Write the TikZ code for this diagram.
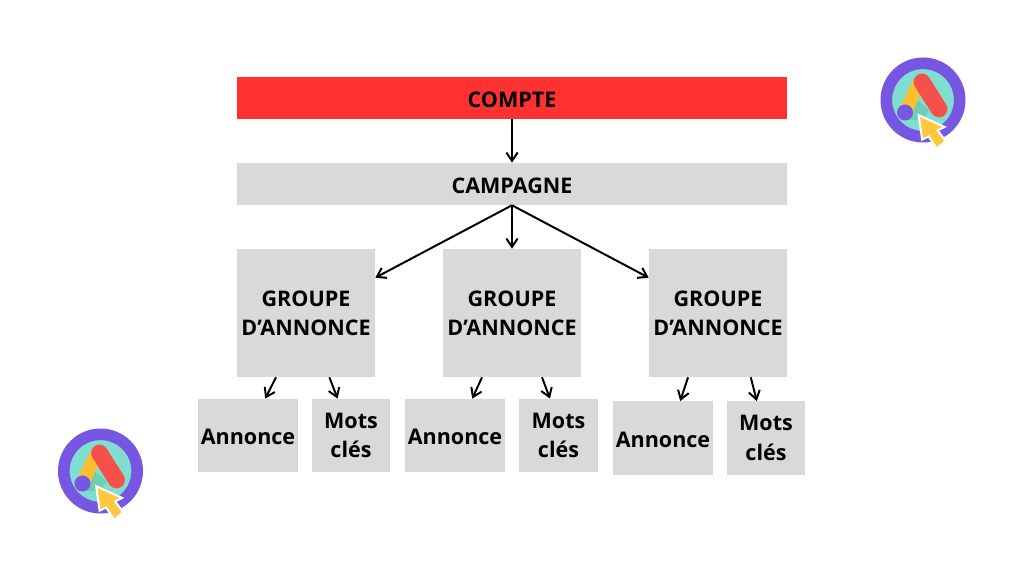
\documentclass[tikz,border=0pt]{standalone}
\usepackage{fontspec}
\setmainfont{Open Sans}
\usetikzlibrary{arrows.meta,positioning}
\definecolor{comptered}{RGB}{255,49,49}
\definecolor{boxgray}{RGB}{217,217,217}
\definecolor{ringpurple}{RGB}{118,86,226}
\definecolor{discteal}{RGB}{128,222,208}
\definecolor{shadeteal}{RGB}{112,205,178}
\definecolor{barred}{RGB}{246,80,74}
\definecolor{baryellow}{RGB}{251,192,48}
\definecolor{cursoryellow}{RGB}{253,200,60}

\begin{document}
\begin{tikzpicture}[
    x=0.025cm, y=-0.025cm,
    box/.style={rectangle, fill=boxgray, inner sep=0pt, align=center, font=\fontsize{15.3}{21}\selectfont\bfseries, execute at begin node={\rule{0pt}{13.5pt}}},
    wide/.style={box, minimum width=13.75cm, minimum height=1.05cm},
    groupe/.style={box, minimum width=3.45cm, minimum height=3.2cm, font=\fontsize{15.3}{20.6}\selectfont\bfseries, execute at begin node={\rule{0pt}{20pt}}},
    annonce/.style={box, minimum width=2.5cm, minimum height=1.83cm},
    motscles/.style={box, minimum width=1.95cm, minimum height=1.83cm, execute at begin node={\rule{0pt}{15pt}}},
    arrow/.style={-{Straight Barb[length=6pt,width=8pt]}, line width=1.4pt, black},
    pics/adsicon/.style={code={
        \fill[discteal] (0,0) circle (32);
        \draw[ringpurple, line width=0.29cm] (0,0) circle (36.7);
        \fill[shadeteal] (-6,0) -- (6,10) -- (0,20) -- (-14,20) -- cycle;
        \draw[baryellow, line width=0.33cm, line cap=round] (-5,-15) -- (-18,12);
        \fill[ringpurple] (-18,12.5) circle (8);
        \draw[barred, line width=0.42cm, line cap=round] (-1,-18) -- (16,9);
        \fill[cursoryellow, line join=round, preaction={draw=white, line width=3pt}] (-3,17) -- (19,27) -- (13,30) -- (21,41) -- (14,47) -- (6,35) -- (0,38) -- cycle;
    }}
]
    \useasboundingbox (0,0) rectangle (1024,576);

    % Top levels
    \node[wide, fill=comptered] (compte) at (512,98) {COMPTE};
    \node[wide] (campagne) at (512,184) {CAMPAGNE};
    \draw[arrow] (compte) -- (campagne);

    % Groups
    \node[groupe] (groupe1) at (306,313) {GROUPE\\D’ANNONCE};
    \node[groupe] (groupe2) at (512,313) {GROUPE\\D’ANNONCE};
    \node[groupe] (groupe3) at (718,313) {GROUPE\\D’ANNONCE};
    \draw[arrow] (campagne.south) -- (groupe1.27);
    \draw[arrow] (campagne.south) -- (groupe2.north);
    \draw[arrow] (campagne.south) -- (groupe3.153);

    % Group 1
    \node[annonce] (annonce1) at (248,435.5) {Annonce};
    \node[motscles] (mots1) at (351,435.5) {Mots\\clés};
    \draw[arrow] (groupe1.245) -- (annonce1.65);
    \draw[arrow] (groupe1.290) -- (mots1.110);

    % Group 2
    \node[annonce] (annonce2) at (455,435.5) {Annonce};
    \node[motscles] (mots2) at (558.5,435.5) {Mots\\clés};
    \draw[arrow] (groupe2.245) -- (annonce2.65);
    \draw[arrow] (groupe2.295) -- (mots2.103);

    % Group 3
    \node[annonce] (annonce3) at (663,438) {Annonce};
    \node[motscles] (mots3) at (766,438) {Mots\\clés};
    \draw[arrow] (groupe3.245) -- (annonce3.65);
    \draw[arrow] (groupe3.297) -- (mots3.104);

    % Logos
    \pic at (923,100) {adsicon};
    \pic at (100.5,471) {adsicon};
\end{tikzpicture}
\end{document}
